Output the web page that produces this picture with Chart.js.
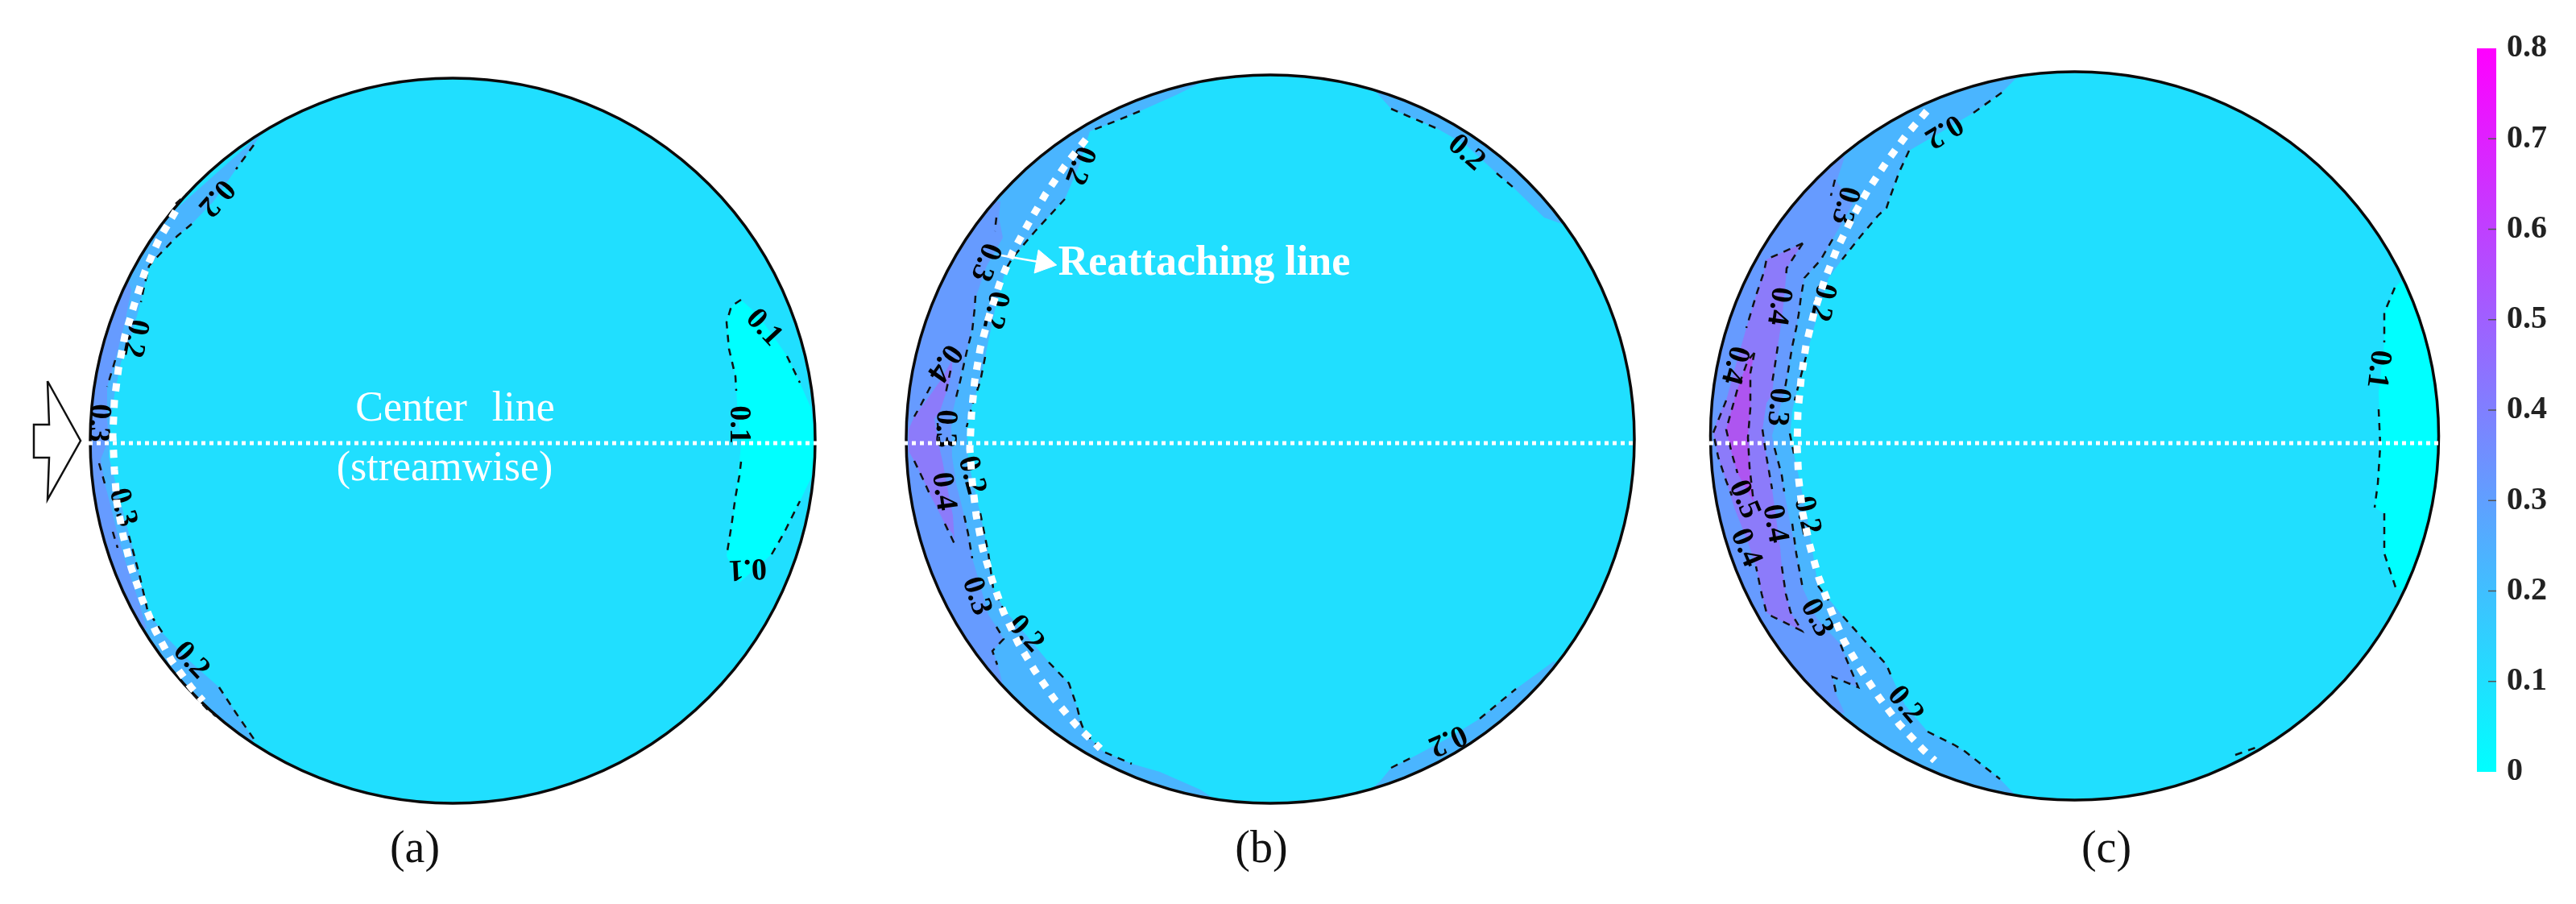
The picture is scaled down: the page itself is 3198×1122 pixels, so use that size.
<!DOCTYPE html>
<html>
<head>
<meta charset="utf-8">
<style>
  html, body { margin: 0; padding: 0; background: #fff; width: 3198px; height: 1122px; overflow: hidden; }
  canvas { position: absolute; }
</style>
<script src="https://cdn.jsdelivr.net/npm/chart.js@4/dist/chart.umd.min.js"></script>
</head>
<body>
<canvas id="panels" width="3198" height="1122" style="left:0;top:0;width:3198px;height:1122px"></canvas>
<canvas id="colorbar" width="123" height="978" style="left:3075px;top:20px;width:123px;height:978px"></canvas>
<script>
// level colours
const level0 = '#00ffff', level1 = '#20dfff', level2 = '#4ab5ff', level3 = '#669bff', level4 = '#8c7bfa', level5 = '#ae55f0';

// circles: centre x, centre y, radius
const circleX = [562, 1577, 2575.5];
const circleY = [547, 545, 541];
const circleR = [450, 452, 452];

// panel (a) contour bands
const aBand1 = [[920,372],[908,380],[902,400],[905,433],[913,467],[915,500],[920,550],[918,573],[913,617],[908,653],[902,690],[918,723],[958,688],[973,662],[993,622],[1007,593],[1012,550],[1007,507],[993,475],[977,442],[962,420],[940,390]];
const aBand2 = [[325,165],[315,180],[293,210],[265,250],[238,278],[220,293],[197,317],[185,330],[178,360],[172,385],[162,420],[150,450],[142,490],[137,525],[136,550],[135,567],[150,625],[163,673],[173,713],[183,757],[203,787],[235,820],[272,853],[293,885],[315,917],[305,935],[60,700],[60,400]];
const aBand3 = [[158,345],[163,360],[155,400],[143,447],[133,480],[133,520],[135,545],[125,570],[130,600],[138,630],[145,660],[155,695],[170,740],[182,780],[60,780],[60,345]];
// panel (a) dashed contours
const aLines = [
  [[315,180],[293,210]],
  [[238,278],[220,293],[197,317],[185,330],[178,360],[175,375]],
  [[143,447],[133,480]],
  [[123,575],[130,600]],
  [[140,660],[146,680]],
  [[160,665],[173,713],[183,757],[203,787]],
  [[272,853],[293,885],[315,917]],
  [[240,862],[257,880],[268,889]],
  [[218,253],[235,238]],
  [[920,372],[908,380],[902,400],[905,433],[913,467],[914,485]],
  [[920,573],[918,590],[913,617],[908,653],[902,690]],
  [[958,688],[973,662],[993,622]],
  [[977,442],[993,475]]
];
const aDots = [[218,262],[197,298],[180,337],[167,377],[155,417],[147,458],[142,498],[140,540],[142,583],[145,623],[153,665],[163,705],[177,745],[193,783],[213,820],[237,853],[252,870]];
const aLabels = [['0.2',268,245,131],['0.2',167,420,101],['0.3',122,525,93],['0.3',152,630,75],['0.2',237,820,47],['0.1',948,407,47],['0.1',917,527,90],['0.1',928,705,177]];

// panel (b) contour bands
const bBand2 = [[1500,98],[1460,118],[1415,138],[1403,143],[1353,163],[1340,205],[1322,247],[1285,287],[1257,320],[1247,340],[1235,385],[1223,443],[1217,473],[1207,503],[1200,530],[1202,570],[1206,590],[1217,637],[1227,687],[1233,730],[1247,757],[1273,787],[1302,822],[1327,848],[1337,877],[1342,897],[1347,910],[1370,933],[1405,948],[1440,958],[1490,980],[1520,1000],[1100,1000],[1100,90]];
const bBand2TopRight = [[1700,105],[1727,135],[1785,160],[1820,180],[1858,215],[1878,232],[1917,270],[1945,280],[1960,100]];
const bBand2BottomRight = [[1690,990],[1713,970],[1727,953],[1757,938],[1800,915],[1837,892],[1882,855],[1930,820],[1960,1010]];
const bBand3 = [[1242,250],[1240,270],[1245,295],[1225,330],[1212,367],[1208,400],[1200,437],[1195,453],[1187,493],[1183,510],[1181,530],[1182,567],[1187,600],[1197,640],[1202,663],[1207,693],[1215,720],[1227,763],[1237,778],[1246,793],[1232,808],[1238,822],[1245,850],[1100,850],[1100,250]];
const bBand4 = [[1182,447],[1167,473],[1150,497],[1135,517],[1128,533],[1128,560],[1135,572],[1147,597],[1155,615],[1163,630],[1173,650],[1183,663],[1185,672],[1183,640],[1177,610],[1170,572],[1165,550],[1160,520],[1167,510],[1177,480],[1182,460]];
const bLines = [
  [[1415,138],[1403,143],[1353,163]],
  [[1322,247],[1285,287],[1257,320],[1250,332]],
  [[1223,443],[1217,473],[1207,503],[1200,530]],
  [[1217,637],[1227,687],[1233,730],[1245,755]],
  [[1302,822],[1327,848],[1337,877],[1342,897],[1347,910],[1370,933],[1405,948]],
  [[1237,270],[1235,287]],
  [[1211,367],[1210,383],[1207,410],[1200,437],[1192,473],[1187,493]],
  [[1197,640],[1202,663],[1207,693]],
  [[1237,778],[1246,793],[1232,808],[1238,825]],
  [[1155,480],[1143,503],[1135,517]],
  [[1180,460],[1173,493]],
  [[1135,572],[1147,597],[1155,615]],
  [[1173,650],[1185,675]],
  [[1164,525],[1167,556]],
  [[1727,135],[1785,160]],
  [[1858,215],[1878,232]],
  [[1727,953],[1757,938]],
  [[1837,892],[1882,855]]
];
const bDots = [[1348,173],[1322,206],[1298,241],[1277,277],[1257,313],[1241,352],[1228,392],[1217,432],[1210,473],[1206,515],[1204,557],[1207,598],[1212,640],[1220,681],[1232,721],[1246,760],[1264,798],[1285,833],[1309,868],[1336,900],[1366,929]];
const bLabels = [['0.2',1340,205,111],['0.2',1235,385,102],['0.3',1223,325,111],['0.4',1172,450,125],['0.3',1173,532,92],['0.2',1206,590,75],['0.4',1171,610,82],['0.3',1212,740,72],['0.2',1273,787,47],['0.2',1820,190,41],['0.2',1797,918,156]];

// panel (c) contour bands
const cBand1 = [[2980,350],[2973,357],[2967,375],[2960,388],[2960,425],[2953,487],[2955,533],[2955,553],[2952,600],[2948,630],[2960,637],[2960,687],[2975,732],[3060,732],[3060,350]];
const cBand2 = [[2510,90],[2485,115],[2450,140],[2413,162],[2370,187],[2358,213],[2347,243],[2342,258],[2332,267],[2310,293],[2287,322],[2270,345],[2258,385],[2242,443],[2233,477],[2225,510],[2222,543],[2227,563],[2235,600],[2243,640],[2257,727],[2288,765],[2313,793],[2342,825],[2347,837],[2365,875],[2393,908],[2427,925],[2440,933],[2483,967],[2505,990],[2100,990],[2100,90]];
const cBand3 = [[2290,195],[2280,225],[2300,253],[2275,297],[2260,323],[2240,345],[2236,367],[2233,390],[2230,407],[2225,430],[2220,460],[2215,487],[2207,517],[2200,540],[2203,560],[2212,590],[2215,610],[2222,647],[2230,687],[2238,730],[2255,767],[2285,800],[2293,820],[2307,853],[2275,840],[2280,863],[2290,885],[2100,885],[2100,195]];
const cBand4 = [[2238,302],[2193,322],[2190,337],[2180,367],[2168,407],[2153,460],[2143,497],[2133,517],[2127,537],[2133,567],[2143,597],[2153,630],[2170,673],[2180,703],[2187,737],[2193,760],[2200,765],[2237,783],[2223,760],[2217,737],[2212,703],[2210,680],[2200,607],[2193,567],[2188,533],[2193,500],[2200,490],[2203,457],[2207,430],[2212,397],[2217,347],[2218,333]];
const cBand5 = [[2178,438],[2170,447],[2157,483],[2143,533],[2150,563],[2157,587],[2177,623],[2172,580],[2170,543],[2173,507],[2173,463]];
const cLines = [
  [[2485,115],[2450,140]],
  [[2370,187],[2358,213],[2347,243],[2342,258],[2332,267],[2310,293],[2287,322]],
  [[2242,443],[2233,477],[2228,497]],
  [[2222,538],[2227,563]],
  [[2257,727],[2270,745]],
  [[2288,765],[2313,793],[2342,825],[2347,837]],
  [[2393,908],[2427,925],[2440,933],[2483,967]],
  [[2278,223],[2273,243]],
  [[2275,297],[2260,323],[2240,345],[2236,367],[2233,390],[2230,407],[2225,430],[2220,460],[2215,487]],
  [[2203,556],[2212,590],[2215,610]],
  [[2225,650],[2230,687],[2238,730]],
  [[2285,800],[2293,820],[2307,853],[2275,840],[2280,863]],
  [[2238,302],[2193,322],[2190,337],[2180,367],[2168,407]],
  [[2238,302],[2218,333],[2217,347]],
  [[2207,430],[2203,457],[2200,475]],
  [[2188,533],[2193,567],[2200,607]],
  [[2212,703],[2217,737],[2223,760],[2237,783],[2200,765],[2193,760],[2187,737],[2180,703]],
  [[2143,497],[2127,537],[2133,567],[2143,597],[2150,615]],
  [[2178,438],[2170,447],[2157,483],[2143,533],[2150,563],[2157,587]],
  [[2178,438],[2173,463],[2173,507],[2170,543],[2172,580],[2177,623]],
  [[2973,357],[2960,388],[2960,425]],
  [[2953,508],[2955,553],[2952,600],[2948,630]],
  [[2960,637],[2960,687],[2975,732]],
  [[2775,937],[2803,927]]
];
const cDots = [[2392,138],[2367,167],[2342,201],[2319,236],[2298,273],[2280,310],[2265,348],[2252,388],[2242,429],[2236,470],[2232,512],[2231,553],[2233,595],[2238,637],[2247,678],[2258,717],[2273,757],[2289,795],[2310,831],[2333,866],[2358,899],[2387,930],[2402,944]];
const cLabels = [['0.2',2413,162,149],['0.3',2290,255,105],['0.2',2262,375,102],['0.4',2208,380,98],['0.4',2153,453,105],['0.3',2207,505,95],['0.5',2165,620,67],['0.4',2203,650,80],['0.4',2167,680,67],['0.2',2243,640,77],['0.3',2255,767,62],['0.2',2365,875,50],['0.1',2952,458,97]];

// centre lines and inlet arrow
const centerLineA = [[110,550],[1016,550]];
const centerLineB = [[1122,550],[2032,550]];
const centerLineC = [[2122,550],[3030,550]];
const inletArrow = [[59,473],[100,547],[59,620],[61,568],[42,568],[42,527],[61,527],[59,473]];
const reattachStem = [[1243,317],[1295,326]];
const reattachHead = [[1295,326]];

// text
const centerText = [['Center line',565,508,0]];
const streamText = [['(streamwise)',552,582,0]];
const reattachText = [['Reattaching line',1495,328,0]];
const panelTexts = [['(a)',515,1055,0],['(b)',1566,1055,0],['(c)',2615,1055,0]];

// colour bar
const barLabels = [''];
const barRange = [[0, 0.8]];
const barBottom = '#00ffff', barTop = '#ff00ff';

const pts = list => list.map(p => ({x: p[0], y: p[1]}));

const datasets = [];
const addBand = (list, colour) => datasets.push({
  data: pts(list), showLine: true, fill: 'shape', backgroundColor: colour, borderWidth: 0, pointRadius: 0
});
const addLine = (list, colour, width, dash) => datasets.push({
  data: pts(list), showLine: true, fill: false, borderColor: colour, borderWidth: width, borderDash: dash, pointRadius: 0
});
const addText = (list, font, colour, wordGap) => datasets.push({
  data: list.map(t => ({x: t[1], y: t[2]})), showLine: false, pointRadius: 0,
  texts: list.map(t => t[0]), angles: list.map(t => t[3]), textFont: font, textColour: colour, wordGap
});

addBand(aBand2, level2); addBand(aBand3, level3); addBand(aBand1, level0);
addBand(bBand2, level2); addBand(bBand2TopRight, level2); addBand(bBand2BottomRight, level2);
addBand(bBand3, level3); addBand(bBand4, level4);
addBand(cBand2, level2); addBand(cBand3, level3); addBand(cBand4, level4); addBand(cBand5, level5); addBand(cBand1, level0);
datasets[datasets.length - 1].lastBand = true;

[aLines, bLines, cLines].forEach(group => group.forEach(l => addLine(l, '#111', 2.5, [9, 8])));

const labelFont = 'bold 38px "Liberation Serif"';
addText(aLabels, labelFont, '#000');
addText(bLabels, labelFont, '#000');
addText(cLabels, labelFont, '#000');

[aDots, bDots, cDots].forEach(l => addLine(l, '#fff', 9, [10, 10.7]));
[centerLineA, centerLineB, centerLineC].forEach(l => addLine(l, '#fff', 5, [5, 5]));

addLine(inletArrow, '#111', 2.5, []);
addLine(reattachStem, '#fff', 2.5, []);
datasets.push({
  data: pts(reattachHead), showLine: false, pointStyle: 'triangle', pointRadius: 17, pointRotation: 100,
  backgroundColor: '#fff', borderColor: '#fff'
});

addText(centerText, '52px "Liberation Serif"', '#fff', '18px');
addText(streamText, '52px "Liberation Serif"', '#fff');
addText(reattachText, 'bold 52px "Liberation Serif"', '#fff');
addText(panelTexts, '56px "Liberation Serif"', '#111');

// later entries paint on top
datasets.forEach((d, i) => { d.order = datasets.length - i; });

const circles = {
  id: 'circles',
  beforeDatasetsDraw(chart) {
    const {ctx, scales: {x, y}} = chart;
    const ratio = x.getPixelForValue(1000) - x.getPixelForValue(0);
    ctx.save();
    ctx.fillStyle = level1;
    ctx.beginPath();
    circleX.forEach((cx, i) => {
      const px = x.getPixelForValue(cx), py = y.getPixelForValue(circleY[i]);
      ctx.moveTo(px + circleR[i] * ratio / 1000, py);
      ctx.arc(px, py, circleR[i] * ratio / 1000, 0, Math.PI * 2);
    });
    ctx.fill();
    ctx.clip();
  },
  afterDatasetDraw(chart, args) {
    const ds = chart.data.datasets[args.index];
    const {ctx, scales: {x, y}} = chart;
    if (ds.lastBand) {
      ctx.restore();
      const ratio = x.getPixelForValue(1000) - x.getPixelForValue(0);
      ctx.save();
      ctx.strokeStyle = '#0a0a0a';
      ctx.lineWidth = 3.5;
      circleX.forEach((cx, i) => {
        ctx.beginPath();
        ctx.arc(x.getPixelForValue(cx), y.getPixelForValue(circleY[i]), circleR[i] * ratio / 1000, 0, Math.PI * 2);
        ctx.stroke();
      });
      ctx.restore();
    }
    if (ds.texts) {
      ctx.save();
      ctx.font = ds.textFont;
      ctx.fillStyle = ds.textColour;
      ctx.textAlign = 'center';
      ctx.textBaseline = 'middle';
      if (ds.wordGap) ctx.wordSpacing = ds.wordGap;
      args.meta.data.forEach((pt, i) => {
        ctx.save();
        ctx.translate(pt.x, pt.y);
        ctx.rotate(ds.angles[i] * Math.PI / 180);
        ctx.fillText(ds.texts[i], 0, 0);
        ctx.restore();
      });
      ctx.restore();
    }
  }
};

new Chart(document.getElementById('panels'), {
  type: 'scatter',
  data: {datasets},
  options: {
    responsive: false,
    animation: false,
    events: [],
    layout: {padding: 0, autoPadding: false},
    plugins: {legend: {display: false}, tooltip: {enabled: false}},
    scales: {
      x: {type: 'linear', min: 0, max: 3198, display: false},
      y: {type: 'linear', min: 0, max: 1122, reverse: true, display: false}
    }
  },
  plugins: [circles]
});

const barTicks = {
  id: 'barTicks',
  afterDatasetsDraw(chart) {
    const {ctx, chartArea, scales: {y}} = chart;
    ctx.save();
    ctx.strokeStyle = '#555';
    ctx.lineWidth = 1.5;
    y.ticks.forEach(t => {
      if (t.value <= 0 || t.value >= 0.8) return;
      const py = y.getPixelForValue(t.value);
      ctx.beginPath();
      ctx.moveTo(chartArea.right - 10, py);
      ctx.lineTo(chartArea.right, py);
      ctx.stroke();
    });
    ctx.restore();
  }
};

new Chart(document.getElementById('colorbar'), {
  type: 'bar',
  data: {
    labels: barLabels,
    datasets: [{
      data: barRange,
      barPercentage: 1,
      categoryPercentage: 1,
      backgroundColor: c => {
        const a = c.chart.chartArea;
        if (!a) return barBottom;
        const g = c.chart.ctx.createLinearGradient(0, a.bottom, 0, a.top);
        g.addColorStop(0, barBottom);
        g.addColorStop(1, barTop);
        return g;
      }
    }]
  },
  options: {
    responsive: false,
    animation: false,
    events: [],
    layout: {padding: {top: 40, bottom: 40, left: 0, right: 0}},
    plugins: {legend: {display: false}, tooltip: {enabled: false}},
    scales: {
      x: {display: false},
      y: {
        position: 'right',
        min: 0,
        max: 0.8,
        afterFit: s => { s.width = 99; },
        grid: {display: false, drawTicks: false},
        border: {display: false},
        ticks: {
          stepSize: 0.1,
          padding: 13,
          color: '#222',
          font: {family: '"Liberation Serif"', size: 40, weight: 'bold'},
          callback: v => (v === 0 ? '0' : v.toFixed(1))
        }
      }
    }
  },
  plugins: [barTicks]
});
</script>
</body>
</html>
